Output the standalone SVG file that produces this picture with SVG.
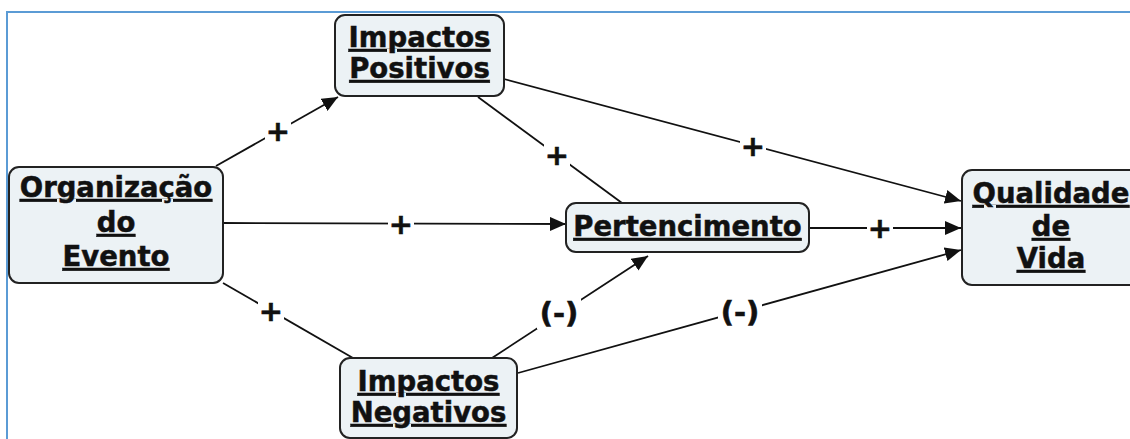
<svg xmlns="http://www.w3.org/2000/svg" width="1130" height="439" viewBox="0 0 1130 439">
<style>
.frame{fill:none;stroke:#5b9bd5;stroke-width:2}
.box{fill:#ecf2f5;stroke:#222;stroke-width:2}
.t{font-family:"DejaVu Sans",Verdana,sans-serif;font-weight:bold;font-size:27.5px;fill:#111;stroke:#111;stroke-width:0.5;text-anchor:middle;text-decoration:underline}
.ln{stroke:#111;stroke-width:1.8;fill:none}
.bg{fill:#fff}
.lbl{font-family:"DejaVu Sans",Verdana,sans-serif;font-weight:bold;font-size:29px;fill:#111;stroke:#111;stroke-width:0.6;text-anchor:middle}
</style>
<defs>
<marker id="arr" markerUnits="userSpaceOnUse" markerWidth="16" markerHeight="14" refX="16" refY="7" orient="auto">
<path d="M0,0 L16,7 L0,14 z" fill="#111"/>
</marker>
</defs>
<rect width="1130" height="439" fill="#fff"/>
<path class="frame" d="M7,440 V12 H1131"/>

<g id="connectors">
<line class="ln" x1="216" y1="166" x2="338" y2="97" marker-end="url(#arr)"/>
<line class="ln" x1="504" y1="79" x2="961" y2="201" marker-end="url(#arr)"/>
<line class="ln" x1="478" y1="97" x2="622" y2="203"/>
<line class="ln" x1="223" y1="223" x2="566" y2="224" marker-end="url(#arr)"/>
<line class="ln" x1="809" y1="228" x2="961" y2="228" marker-end="url(#arr)"/>
<line class="ln" x1="223" y1="283" x2="353" y2="358"/>
<line class="ln" x1="492" y1="358" x2="648" y2="256" marker-end="url(#arr)"/>
<line class="ln" x1="518" y1="373" x2="961" y2="250" marker-end="url(#arr)"/>

<rect class="bg" x="265" y="118" width="26" height="26"/>
<text class="lbl" x="278" y="141">+</text>
<rect class="bg" x="740" y="133" width="26" height="26"/>
<text class="lbl" x="753" y="156">+</text>
<rect class="bg" x="544" y="142" width="26" height="26"/>
<text class="lbl" x="557" y="165">+</text>
<rect class="bg" x="388" y="211" width="26" height="26"/>
<text class="lbl" x="401" y="234">+</text>
<rect class="bg" x="867" y="215" width="26" height="26"/>
<text class="lbl" x="880" y="238">+</text>
<rect class="bg" x="258" y="298" width="26" height="26"/>
<text class="lbl" x="271" y="321">+</text>
<rect class="bg" x="537" y="297" width="44" height="32"/>
<text class="lbl" x="559" y="323">(-)</text>
<rect class="bg" x="718" y="296" width="44" height="32"/>
<text class="lbl" x="740" y="322">(-)</text>
</g>

<g id="impactos-positivos">
<rect class="box" x="335" y="15" width="169" height="81" rx="10"/>
<text class="t" x="419.5" y="47">Impactos</text>
<text class="t" x="419.5" y="78">Positivos</text>
</g>

<g id="organizacao-evento">
<rect class="box" x="9" y="167" width="214" height="116" rx="10"/>
<text class="t" x="116" y="197">Organização</text>
<text class="t" x="116" y="232">do</text>
<text class="t" x="116" y="266">Evento</text>
</g>

<g id="pertencimento">
<rect class="box" x="566" y="203" width="243" height="49" rx="10"/>
<text class="t" x="687.5" y="236">Pertencimento</text>
</g>

<g id="qualidade-vida">
<rect class="box" x="962" y="170" width="180" height="115" rx="10"/>
<text class="t" x="1051" y="203">Qualidade</text>
<text class="t" x="1051" y="236">de</text>
<text class="t" x="1051" y="268">Vida</text>
</g>

<g id="impactos-negativos">
<rect class="box" x="340" y="358" width="177" height="80" rx="10"/>
<text class="t" x="428.5" y="391">Impactos</text>
<text class="t" x="428.5" y="422">Negativos</text>
</g>
</svg>
